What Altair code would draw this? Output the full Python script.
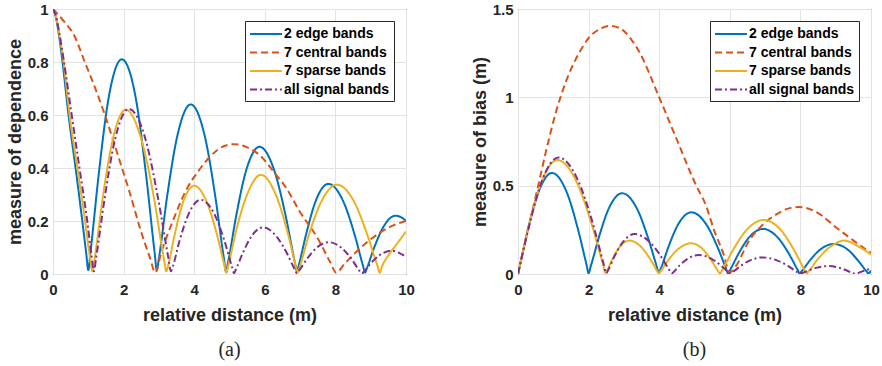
import altair as alt
import pandas as pd

SERIES = ["2 edge bands", "7 central bands", "7 sparse bands", "all signal bands"]
COLORS = ["#0072BD", "#D95319", "#EDB120", "#7E2F8E"]
DASHES = [[1, 0], [7, 4], [1, 0], [7, 3, 2, 3]]

X_TICKS = [0, 2, 4, 6, 8, 10]
A_Y_TICKS = [0, 0.2, 0.4, 0.6, 0.8, 1]
B_Y_TICKS = [0, 0.5, 1, 1.5]

a_edge_x = [0, 0.08, 0.17, 0.27, 0.44, 0.64, 0.83, 0.94, 1.0,
            1.06, 1.29, 1.57, 1.95, 2.35, 2.64, 2.88, 2.94,
            3.0, 3.23, 3.52, 3.9, 4.3, 4.6, 4.84, 4.9,
            4.96, 5.19, 5.47, 5.85, 6.27, 6.59, 6.85, 6.91,
            6.96, 7.18, 7.44, 7.8, 8.22, 8.53, 8.78, 8.84,
            8.89, 9.1, 9.36, 9.7, 9.85, 10]
a_edge_y = [1, 0.97, 0.9, 0.8, 0.6, 0.4, 0.2, 0.08, 0.015,
            0.08, 0.37, 0.66, 0.81, 0.66, 0.37, 0.08, 0.015,
            0.06, 0.29, 0.52, 0.64, 0.52, 0.29, 0.06, 0.01,
            0.045, 0.22, 0.39, 0.48, 0.39, 0.22, 0.045, 0.01,
            0.032, 0.155, 0.275, 0.34, 0.275, 0.155, 0.032, 0.005,
            0.021, 0.1, 0.178, 0.22, 0.215, 0.2]

a_central_x = [0, 0.3, 0.6, 0.9, 1.2, 1.47, 1.92, 2.16, 2.49, 2.75, 2.9,
               3.05, 3.43, 3.81, 4.1, 4.38, 4.85, 5.13, 5.5, 5.84, 6.31, 6.6,
               6.97, 7.54, 7.85, 8.02,
               8.25, 8.6, 9.06, 9.5, 10]
a_central_y = [1, 0.955, 0.9, 0.8, 0.7, 0.6, 0.414, 0.313, 0.162, 0.06, 0.005,
               0.074, 0.212, 0.326, 0.385, 0.433, 0.483, 0.49, 0.478, 0.45, 0.376, 0.326,
               0.24, 0.125, 0.045, 0.005,
               0.037, 0.085, 0.137, 0.175, 0.2]

a_sparse_x = [0, 0.08, 0.17, 0.3, 0.47, 0.69, 0.91, 1.04, 1.12,
              1.18, 1.4, 1.68, 2.06, 2.52, 2.87, 3.14, 3.21,
              3.26, 3.45, 3.68, 4.0, 4.36, 4.64, 4.86, 4.91,
              4.97, 5.2, 5.5, 5.89, 6.31, 6.62, 6.87, 6.93,
              7.0, 7.26, 7.6, 8.04, 8.53, 8.89, 9.19, 9.26,
              9.31, 9.5, 9.75, 10]
a_sparse_y = [1, 0.975, 0.91, 0.8, 0.6, 0.4, 0.2, 0.07, 0.01,
              0.058, 0.28, 0.5, 0.62, 0.5, 0.28, 0.058, 0.01,
              0.031, 0.151, 0.27, 0.333, 0.27, 0.151, 0.031, 0.005,
              0.035, 0.17, 0.3, 0.374, 0.3, 0.17, 0.035, 0.005,
              0.032, 0.153, 0.273, 0.337, 0.273, 0.153, 0.032, 0.005,
              0.025, 0.07, 0.115, 0.16]

a_all_x = [0, 0.08, 0.17, 0.3, 0.53, 0.75, 0.97, 1.09, 1.16,
           1.22, 1.46, 1.75, 2.15, 2.63, 2.98, 3.27, 3.34,
           3.39, 3.59, 3.85, 4.18, 4.56, 4.85, 5.07, 5.13,
           5.18, 5.38, 5.62, 5.95, 6.33, 6.62, 6.85, 6.91,
           6.96, 7.18, 7.45, 7.81, 8.19, 8.47, 8.69, 8.75,
           8.8, 9.0, 9.25, 9.59, 9.8, 10]
a_all_y = [1, 0.975, 0.915, 0.81, 0.6, 0.4, 0.2, 0.07, 0.01,
           0.059, 0.283, 0.504, 0.623, 0.504, 0.283, 0.059, 0.01,
           0.027, 0.128, 0.229, 0.28, 0.229, 0.128, 0.027, 0.003,
           0.017, 0.08, 0.142, 0.176, 0.142, 0.08, 0.017, 0.003,
           0.011, 0.054, 0.097, 0.12, 0.097, 0.054, 0.011, 0.002,
           0.008, 0.04, 0.071, 0.088, 0.08, 0.065]

b_edge_x = [0, 0.06, 0.29, 0.58, 0.96, 1.38, 1.69, 1.94, 2.0,
            2.06, 2.29, 2.57, 2.95, 3.37, 3.68, 3.93, 3.99,
            4.05, 4.27, 4.54, 4.91, 5.33, 5.64, 5.89, 5.95,
            6.01, 6.25, 6.54, 6.94, 7.36, 7.67, 7.92, 7.98,
            8.04, 8.27, 8.56, 8.94, 9.34, 9.63, 9.87, 9.93, 10]
b_edge_y = [0, 0.054, 0.26, 0.463, 0.572, 0.463, 0.26, 0.054, 0.005,
            0.043, 0.207, 0.37, 0.457, 0.37, 0.207, 0.043, 0.005,
            0.033, 0.158, 0.282, 0.349, 0.282, 0.158, 0.033, 0.004,
            0.024, 0.116, 0.206, 0.255, 0.206, 0.116, 0.024, 0.003,
            0.016, 0.077, 0.138, 0.17, 0.138, 0.077, 0.016, 0.003, 0.02]

b_central_x = [0, 0.27, 0.56, 0.8, 1.08, 1.36, 1.7, 2.02, 2.3, 2.6, 2.9, 3.2, 3.4,
               4.0, 4.5, 5.05, 5.3, 5.57, 5.81, 6.0,
               6.19, 6.52, 6.94, 7.32, 7.65, 7.98, 8.5, 9.02, 9.4, 9.78, 10]
b_central_y = [0, 0.24, 0.49, 0.7, 0.92, 1.09, 1.24, 1.34, 1.385, 1.405, 1.39, 1.33, 1.27,
               1.0, 0.76, 0.5, 0.4, 0.24, 0.12, 0.01,
               0.05, 0.18, 0.28, 0.338, 0.37, 0.379, 0.345, 0.262, 0.205, 0.149, 0.12]

b_sparse_x = [0, 0.07, 0.33, 0.67, 1.11, 1.66, 2.07, 2.4, 2.48,
              2.52, 2.68, 2.88, 3.15, 3.49, 3.74, 3.94, 3.99,
              4.04, 4.26, 4.54, 4.9, 5.23, 5.47, 5.67, 5.72,
              5.8, 6.1, 6.47, 6.97, 7.45, 7.81, 8.1, 8.17,
              8.24, 8.5, 8.84, 9.25, 9.65, 10]
b_sparse_y = [0, 0.061, 0.293, 0.522, 0.645, 0.522, 0.293, 0.061, 0.005,
              0.018, 0.086, 0.153, 0.189, 0.153, 0.086, 0.018, 0.003,
              0.016, 0.079, 0.141, 0.174, 0.141, 0.079, 0.016, 0.003,
              0.029, 0.139, 0.248, 0.306, 0.248, 0.139, 0.029, 0.004,
              0.018, 0.086, 0.153, 0.189, 0.155, 0.11]

b_all_x = [0, 0.07, 0.35, 0.69, 1.15, 1.69, 2.1, 2.42, 2.5,
           2.55, 2.74, 2.98, 3.3, 3.72, 4.04, 4.29, 4.35,
           4.4, 4.58, 4.81, 5.11, 5.47, 5.74, 5.96, 6.01,
           6.07, 6.29, 6.56, 6.93, 7.35, 7.67, 7.92, 7.98,
           8.03, 8.23, 8.47, 8.8, 9.09, 9.31, 9.49, 9.53, 9.75, 10]
b_all_y = [0, 0.062, 0.3, 0.534, 0.66, 0.534, 0.3, 0.062, 0.005,
           0.021, 0.103, 0.183, 0.226, 0.183, 0.103, 0.021, 0.003,
           0.01, 0.049, 0.087, 0.108, 0.087, 0.049, 0.01, 0.002,
           0.009, 0.043, 0.076, 0.094, 0.076, 0.043, 0.009, 0.002,
           0.004, 0.02, 0.036, 0.045, 0.036, 0.02, 0.004, 0.001, 0.015, 0.03]

TEXT = "#262626"
SANS = "Liberation Sans"


def frame(pairs):
    rows = []
    for name, (xs, ys) in zip(SERIES, pairs):
        assert len(xs) == len(ys), name
        for i, (xv, yv) in enumerate(zip(xs, ys)):
            rows.append({"series": name, "x": xv, "y": yv, "i": i})
    return pd.DataFrame(rows)


def panel(pairs, ydomain, yticks, ytitle, label):
    leg = alt.Legend(
        title=None, orient="top-right", offset=12,
        fillColor="white", strokeColor=TEXT, padding=4,
        labelFont=SANS, labelFontWeight="bold", labelFontSize=14,
        labelColor="black", symbolStrokeWidth=2,
        symbolType="M-2,0H2", symbolSize=256, symbolOffset=8,
        labelOffset=9, rowPadding=2.5,
    )
    return alt.Chart(frame(pairs)).mark_line(
        interpolate="monotone", strokeWidth=2, clip=True
    ).encode(
        x=alt.X("x:Q", scale=alt.Scale(domain=[0, 10], nice=False),
                axis=alt.Axis(values=X_TICKS, title="relative distance (m)",
                              labelPadding=8, titlePadding=9, labelFlush=False)),
        y=alt.Y("y:Q", scale=alt.Scale(domain=ydomain, nice=False),
                axis=alt.Axis(values=yticks, format="~g", title=ytitle,
                              labelPadding=5, titlePadding=3, labelFlush=False)),
        color=alt.Color("series:N", scale=alt.Scale(domain=SERIES, range=COLORS), legend=leg),
        strokeDash=alt.StrokeDash("series:N", scale=alt.Scale(domain=SERIES, range=DASHES), legend=leg),
        order="i:Q",
    ).properties(
        width=353, height=265,
        title=alt.TitleParams(text=label, orient="bottom", font="Liberation Serif",
                              fontSize=20, fontWeight="normal", color=TEXT, offset=16),
    )


pa = panel([(a_edge_x, a_edge_y), (a_central_x, a_central_y),
            (a_sparse_x, a_sparse_y), (a_all_x, a_all_y)],
           [0, 1], A_Y_TICKS, "measure of dependence", "(a)")
pb = panel([(b_edge_x, b_edge_y), (b_central_x, b_central_y),
            (b_sparse_x, b_sparse_y), (b_all_x, b_all_y)],
           [0, 1.5], B_Y_TICKS, "measure of bias (m)", "(b)")

chart = alt.hconcat(pa, pb, spacing=55).resolve_scale(
    color="independent", strokeDash="independent"
).properties(
    padding={"left": 5, "top": 1, "right": 0, "bottom": 0},
    background="white",
).configure_view(
    stroke=TEXT, strokeWidth=1
).configure_axis(
    grid=True, gridColor="#e3e3e3", gridWidth=1,
    ticks=False, domain=False,
    labelFont=SANS, labelFontWeight="bold", labelFontSize=15, labelColor=TEXT,
    titleFont=SANS, titleFontWeight="bold", titleFontSize=18, titleColor=TEXT,
)

chart.save("out.html", embed_options={"renderer": "svg", "actions": False})
